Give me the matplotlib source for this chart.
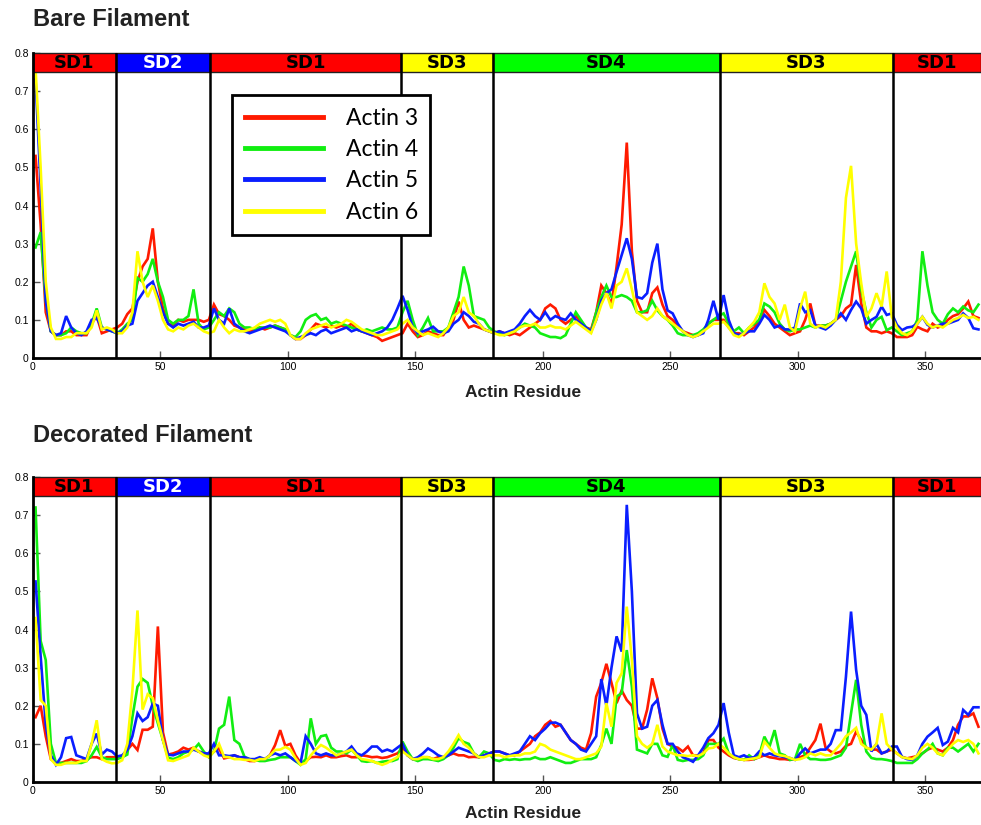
import numpy as np
import matplotlib
matplotlib.use("Agg")
import matplotlib.pyplot as plt
from matplotlib.patches import Rectangle

# Residue grid (every second residue of actin, 1..371)
residue = np.arange(1, 372, 2)

# Subdomain boundaries, labels and band colours
domain_edges = [0, 32.5, 69.5, 144.5, 180.5, 269.5, 337.5, 375]
domain_names = ["SD1", "SD2", "SD1", "SD3", "SD4", "SD3", "SD1"]
domain_colors = ["#ff0000", "#0000ff", "#ff0000", "#ffff00", "#00ff00", "#ffff00", "#ff0000"]
domain_text = ["black", "white", "black", "black", "black", "black", "black"]

series_names = ["Actin 3", "Actin 4", "Actin 5", "Actin 6"]
series_colors = ["#ff1a00", "#11ee11", "#0a1eff", "#ffff00"]

x_ticks = [0, 50, 100, 150, 200, 250, 300, 350]
y_ticks = [0, 0.1, 0.2, 0.3, 0.4, 0.5, 0.6, 0.7, 0.8]

# ---- Bare filament ----
bare_actin3 = [
    0.53, 0.35, 0.12, 0.07, 0.06, 0.06, 0.07, 0.07, 0.06, 0.06,
    0.06, 0.09, 0.11, 0.065, 0.07, 0.075, 0.08, 0.09, 0.115, 0.13,
    0.2, 0.24, 0.26, 0.34, 0.2, 0.13, 0.09, 0.085, 0.1, 0.095,
    0.1, 0.1, 0.1, 0.095, 0.1, 0.14, 0.115, 0.11, 0.1, 0.085,
    0.08, 0.075, 0.07, 0.075, 0.08, 0.075, 0.08, 0.085, 0.08, 0.075,
    0.06, 0.05, 0.05, 0.06, 0.075, 0.09, 0.085, 0.08, 0.085, 0.08,
    0.085, 0.08, 0.09, 0.075, 0.07, 0.065, 0.06, 0.055, 0.045, 0.05,
    0.055, 0.06, 0.065, 0.09, 0.07, 0.055, 0.06, 0.07, 0.065, 0.06,
    0.06, 0.08, 0.1, 0.148, 0.1, 0.08, 0.085, 0.08, 0.075, 0.07,
    0.065, 0.07, 0.065, 0.06, 0.065, 0.06, 0.07, 0.08, 0.09, 0.1,
    0.13, 0.14, 0.13, 0.1, 0.09, 0.1, 0.11, 0.095, 0.08, 0.075,
    0.12, 0.19, 0.17, 0.14, 0.24, 0.35, 0.565, 0.28, 0.15, 0.12,
    0.12, 0.17, 0.185, 0.14, 0.11, 0.1, 0.085, 0.07, 0.065, 0.06,
    0.06, 0.07, 0.09, 0.1, 0.1, 0.1, 0.08, 0.065, 0.065, 0.06,
    0.07, 0.08, 0.1, 0.126, 0.11, 0.09, 0.08, 0.07, 0.06, 0.065,
    0.07, 0.1, 0.143, 0.085, 0.085, 0.085, 0.09, 0.1, 0.11, 0.13,
    0.14, 0.244, 0.143, 0.08, 0.07, 0.07, 0.065, 0.07, 0.065, 0.055,
    0.055, 0.055, 0.06, 0.082, 0.075, 0.07, 0.09, 0.08, 0.085, 0.1,
    0.11, 0.115, 0.13, 0.148, 0.11, 0.105,
]
bare_actin4 = [
    0.29, 0.33, 0.15, 0.07, 0.06, 0.06, 0.065, 0.08, 0.07, 0.065,
    0.065, 0.09, 0.13, 0.08, 0.075, 0.07, 0.065, 0.075, 0.09, 0.1,
    0.21, 0.2, 0.22, 0.26, 0.2, 0.16, 0.1, 0.09, 0.1, 0.1,
    0.11, 0.18, 0.09, 0.075, 0.08, 0.1, 0.12, 0.11, 0.13, 0.12,
    0.09, 0.08, 0.08, 0.075, 0.08, 0.08, 0.08, 0.085, 0.08, 0.075,
    0.06, 0.055, 0.07, 0.1, 0.11, 0.115, 0.1, 0.105, 0.09, 0.095,
    0.09, 0.085, 0.08, 0.075, 0.07, 0.075, 0.07, 0.075, 0.08, 0.075,
    0.075, 0.08, 0.12, 0.15, 0.1, 0.06, 0.08, 0.105, 0.07, 0.07,
    0.07, 0.08, 0.12, 0.16, 0.24, 0.19, 0.11, 0.105, 0.1, 0.08,
    0.07, 0.065, 0.06, 0.065, 0.07, 0.08, 0.09, 0.085, 0.08, 0.065,
    0.06, 0.055, 0.055, 0.052, 0.06, 0.09, 0.12, 0.1, 0.08, 0.07,
    0.12, 0.16, 0.19, 0.16, 0.16, 0.165, 0.16, 0.15, 0.12, 0.12,
    0.125, 0.15, 0.125, 0.11, 0.1, 0.085, 0.065, 0.06, 0.06, 0.06,
    0.065, 0.075, 0.09, 0.1, 0.11, 0.117, 0.09, 0.07, 0.08, 0.065,
    0.08, 0.09, 0.1, 0.143, 0.135, 0.12, 0.09, 0.075, 0.07, 0.075,
    0.075, 0.08, 0.085, 0.08, 0.085, 0.085, 0.09, 0.1, 0.15, 0.2,
    0.24, 0.28, 0.18, 0.12, 0.08, 0.1, 0.108, 0.073, 0.08, 0.07,
    0.06, 0.065, 0.07, 0.1, 0.28, 0.19, 0.12, 0.1, 0.09, 0.115,
    0.13, 0.12, 0.135, 0.125, 0.12, 0.14,
]
bare_actin5 = [
    0.73, 0.45, 0.15, 0.07, 0.06, 0.065, 0.11, 0.08, 0.065, 0.06,
    0.07, 0.1, 0.105, 0.08, 0.075, 0.07, 0.065, 0.07, 0.085, 0.09,
    0.15, 0.17, 0.19, 0.2, 0.16, 0.12, 0.09, 0.08, 0.09, 0.085,
    0.09, 0.095, 0.08, 0.08, 0.085, 0.13, 0.1, 0.09, 0.13, 0.09,
    0.08, 0.07, 0.065, 0.07, 0.075, 0.08, 0.085, 0.08, 0.075, 0.07,
    0.06, 0.05, 0.055, 0.06, 0.065, 0.06, 0.07, 0.075, 0.065, 0.07,
    0.075, 0.08, 0.07, 0.075, 0.07, 0.065, 0.06, 0.065, 0.07, 0.08,
    0.1, 0.13, 0.163, 0.126, 0.08, 0.065, 0.07, 0.075, 0.082, 0.07,
    0.065, 0.07, 0.09, 0.1, 0.12, 0.11, 0.095, 0.09, 0.075, 0.07,
    0.065, 0.07, 0.065, 0.07, 0.075, 0.09, 0.11, 0.126, 0.11, 0.1,
    0.12, 0.1, 0.11, 0.104, 0.1, 0.117, 0.1, 0.09, 0.08, 0.07,
    0.1, 0.15, 0.17, 0.18, 0.226, 0.27, 0.314, 0.26, 0.16, 0.156,
    0.17, 0.25, 0.3, 0.18, 0.125, 0.117, 0.09, 0.07, 0.06, 0.055,
    0.06, 0.065, 0.1, 0.15, 0.1, 0.165, 0.1, 0.065, 0.06, 0.065,
    0.07, 0.07, 0.09, 0.113, 0.1, 0.08, 0.085, 0.075, 0.075, 0.08,
    0.143, 0.12, 0.126, 0.085, 0.08, 0.075, 0.085, 0.1, 0.117, 0.1,
    0.126, 0.148, 0.13, 0.09, 0.1, 0.108, 0.135, 0.113, 0.117, 0.087,
    0.073, 0.08, 0.082, 0.09, 0.108, 0.087, 0.08, 0.085, 0.09, 0.09,
    0.095, 0.1, 0.117, 0.105, 0.078, 0.075,
]
bare_actin6 = [
    0.76, 0.5, 0.2, 0.08, 0.05, 0.05, 0.055, 0.055, 0.065, 0.065,
    0.065, 0.08, 0.125, 0.075, 0.08, 0.075, 0.065, 0.065, 0.08, 0.12,
    0.28, 0.2, 0.16, 0.19, 0.15, 0.1, 0.075, 0.07, 0.08, 0.075,
    0.085, 0.09, 0.08, 0.07, 0.065, 0.07, 0.1, 0.08, 0.065, 0.075,
    0.07, 0.07, 0.075, 0.08, 0.09, 0.095, 0.1, 0.095, 0.1, 0.09,
    0.06, 0.05, 0.05, 0.065, 0.075, 0.08, 0.085, 0.09, 0.08, 0.085,
    0.09, 0.1, 0.095, 0.085, 0.075, 0.07, 0.065, 0.06, 0.06, 0.065,
    0.07, 0.075, 0.09, 0.1, 0.08, 0.07, 0.06, 0.065, 0.06, 0.055,
    0.065, 0.08, 0.11, 0.12, 0.16, 0.12, 0.11, 0.09, 0.075, 0.07,
    0.065, 0.06, 0.06, 0.065, 0.07, 0.08, 0.085, 0.085, 0.09, 0.08,
    0.08, 0.085, 0.08, 0.08, 0.075, 0.085, 0.095, 0.085, 0.075, 0.065,
    0.1, 0.14, 0.17, 0.13, 0.19, 0.2, 0.235, 0.18, 0.12, 0.11,
    0.1, 0.11, 0.13, 0.11, 0.1, 0.09, 0.08, 0.07, 0.06, 0.055,
    0.06, 0.07, 0.08, 0.09, 0.09, 0.095, 0.08, 0.06, 0.055, 0.065,
    0.08, 0.095, 0.12, 0.196, 0.16, 0.143, 0.1, 0.14, 0.08, 0.07,
    0.13, 0.174, 0.09, 0.08, 0.085, 0.08, 0.09, 0.1, 0.2, 0.42,
    0.504, 0.3, 0.196, 0.108, 0.13, 0.17, 0.135, 0.227, 0.108, 0.08,
    0.065, 0.06, 0.07, 0.09, 0.108, 0.09, 0.08, 0.085, 0.08, 0.09,
    0.1, 0.105, 0.113, 0.105, 0.108, 0.1,
]

# ---- Decorated filament ----
dec_actin3 = [
    0.17, 0.2, 0.12, 0.06, 0.05, 0.05, 0.055, 0.06, 0.055, 0.055,
    0.06, 0.065, 0.065, 0.06, 0.065, 0.065, 0.065, 0.065, 0.084, 0.1,
    0.084, 0.137, 0.137, 0.145, 0.408, 0.13, 0.072, 0.075, 0.08, 0.09,
    0.085, 0.09, 0.08, 0.075, 0.07, 0.08, 0.088, 0.062, 0.065, 0.07,
    0.065, 0.06, 0.055, 0.055, 0.06, 0.06, 0.07, 0.097, 0.136, 0.095,
    0.1, 0.07, 0.05, 0.055, 0.065, 0.066, 0.065, 0.07, 0.065, 0.065,
    0.068, 0.07, 0.065, 0.065, 0.07, 0.068, 0.065, 0.066, 0.063, 0.065,
    0.07, 0.075, 0.088, 0.07, 0.06, 0.06, 0.065, 0.065, 0.06, 0.065,
    0.065, 0.07, 0.075, 0.07, 0.07, 0.065, 0.066, 0.065, 0.07, 0.075,
    0.08, 0.08, 0.075, 0.07, 0.07, 0.08, 0.09, 0.1, 0.12, 0.13,
    0.15, 0.16, 0.145, 0.15, 0.13, 0.11, 0.1, 0.09, 0.085, 0.128,
    0.224, 0.26, 0.31, 0.26, 0.207, 0.24, 0.215, 0.2, 0.14, 0.14,
    0.19, 0.272, 0.22, 0.14, 0.1, 0.093, 0.09, 0.08, 0.093, 0.07,
    0.07, 0.075, 0.11, 0.11, 0.09, 0.08, 0.07, 0.063, 0.06, 0.058,
    0.058, 0.06, 0.065, 0.07, 0.065, 0.063, 0.06, 0.06, 0.058, 0.06,
    0.065, 0.07, 0.09, 0.11, 0.153, 0.09, 0.08, 0.075, 0.08, 0.095,
    0.1, 0.132, 0.11, 0.09, 0.085, 0.085, 0.075, 0.08, 0.085, 0.075,
    0.066, 0.062, 0.065, 0.068, 0.075, 0.085, 0.09, 0.085, 0.08, 0.09,
    0.11, 0.15, 0.172, 0.172, 0.18, 0.145,
]
dec_actin4 = [
    0.72, 0.37, 0.32, 0.1, 0.05, 0.05, 0.05, 0.05, 0.05, 0.05,
    0.055, 0.07, 0.092, 0.065, 0.06, 0.06, 0.06, 0.065, 0.072, 0.17,
    0.25, 0.27, 0.26, 0.2, 0.154, 0.11, 0.064, 0.06, 0.065, 0.075,
    0.08, 0.085, 0.1, 0.08, 0.065, 0.08, 0.14, 0.15, 0.224, 0.11,
    0.1, 0.066, 0.06, 0.058, 0.055, 0.055, 0.058, 0.06, 0.065, 0.065,
    0.065, 0.055, 0.045, 0.06, 0.167, 0.1, 0.12, 0.123, 0.09, 0.08,
    0.08, 0.075, 0.085, 0.07, 0.055, 0.053, 0.055, 0.05, 0.053, 0.055,
    0.055, 0.06, 0.106, 0.08, 0.06, 0.055, 0.06, 0.06, 0.058, 0.055,
    0.06, 0.07, 0.09, 0.115, 0.105, 0.1, 0.075, 0.065, 0.08, 0.075,
    0.058, 0.055, 0.06, 0.058, 0.06, 0.058, 0.06, 0.06, 0.065, 0.06,
    0.06, 0.065, 0.06, 0.055, 0.05, 0.05, 0.055, 0.06, 0.06, 0.06,
    0.065, 0.097, 0.14, 0.1, 0.224, 0.233, 0.346, 0.25, 0.085, 0.08,
    0.075, 0.1, 0.1, 0.07, 0.066, 0.097, 0.058, 0.055, 0.058, 0.058,
    0.06, 0.07, 0.1, 0.1, 0.1, 0.114, 0.075, 0.065, 0.06, 0.058,
    0.07, 0.06, 0.07, 0.119, 0.093, 0.136, 0.075, 0.07, 0.058, 0.06,
    0.1, 0.07, 0.06, 0.06, 0.058, 0.058, 0.06, 0.065, 0.07, 0.09,
    0.18, 0.268, 0.15, 0.08, 0.063, 0.06, 0.06, 0.058, 0.055, 0.05,
    0.05, 0.05, 0.05, 0.06, 0.075, 0.085, 0.1, 0.075, 0.07, 0.09,
    0.09, 0.08, 0.09, 0.1, 0.08, 0.1,
]
dec_actin5 = [
    0.526, 0.33, 0.15, 0.07, 0.045, 0.065, 0.115, 0.118, 0.07, 0.065,
    0.06, 0.1, 0.127, 0.072, 0.085, 0.08, 0.067, 0.07, 0.084, 0.12,
    0.18, 0.16, 0.17, 0.206, 0.2, 0.11, 0.072, 0.07, 0.075, 0.08,
    0.08, 0.085, 0.08, 0.075, 0.075, 0.1, 0.07, 0.07, 0.068, 0.07,
    0.065, 0.065, 0.06, 0.06, 0.065, 0.06, 0.07, 0.075, 0.07, 0.075,
    0.065, 0.055, 0.05, 0.12, 0.1, 0.075, 0.07, 0.075, 0.07, 0.07,
    0.075, 0.08, 0.093, 0.075, 0.07, 0.08, 0.093, 0.093, 0.08, 0.085,
    0.08, 0.09, 0.1, 0.07, 0.06, 0.065, 0.075, 0.088, 0.08, 0.07,
    0.065, 0.07, 0.08, 0.09, 0.085, 0.08, 0.075, 0.065, 0.07, 0.075,
    0.08, 0.08, 0.075, 0.07, 0.075, 0.08, 0.1, 0.12, 0.11, 0.128,
    0.14, 0.155, 0.156, 0.15, 0.13, 0.11, 0.1, 0.085, 0.08, 0.1,
    0.12, 0.27, 0.2, 0.3, 0.382, 0.342, 0.727, 0.5, 0.18, 0.14,
    0.145, 0.2, 0.215, 0.15, 0.1, 0.1, 0.08, 0.065, 0.06, 0.053,
    0.07, 0.09, 0.115, 0.128, 0.15, 0.207, 0.13, 0.07, 0.065, 0.07,
    0.063, 0.065, 0.08, 0.07, 0.075, 0.07, 0.068, 0.065, 0.063, 0.058,
    0.075, 0.088, 0.075, 0.08, 0.085, 0.085, 0.1, 0.136, 0.136, 0.276,
    0.447, 0.294, 0.2, 0.176, 0.08, 0.1, 0.075, 0.08, 0.093, 0.093,
    0.066, 0.06, 0.058, 0.07, 0.1, 0.119, 0.13, 0.142, 0.097, 0.106,
    0.142, 0.13, 0.189, 0.176, 0.196, 0.196,
]
dec_actin6 = [
    0.43, 0.215, 0.2, 0.06, 0.045, 0.045, 0.05, 0.05, 0.05, 0.055,
    0.055, 0.1, 0.162, 0.06, 0.053, 0.049, 0.05, 0.057, 0.1, 0.24,
    0.45, 0.19, 0.23, 0.22, 0.162, 0.11, 0.057, 0.055, 0.06, 0.065,
    0.07, 0.09, 0.08, 0.07, 0.065, 0.08, 0.1, 0.066, 0.065, 0.06,
    0.06, 0.058, 0.058, 0.055, 0.06, 0.06, 0.07, 0.084, 0.085, 0.092,
    0.085, 0.062, 0.045, 0.05, 0.07, 0.085, 0.097, 0.09, 0.08, 0.07,
    0.075, 0.08, 0.085, 0.07, 0.06, 0.058, 0.055, 0.05, 0.045, 0.05,
    0.058, 0.065, 0.08, 0.07, 0.06, 0.06, 0.065, 0.065, 0.06, 0.06,
    0.065, 0.08, 0.1, 0.123, 0.1, 0.09, 0.075, 0.065, 0.065, 0.07,
    0.07, 0.07, 0.065, 0.068, 0.07, 0.07, 0.075, 0.075, 0.08, 0.1,
    0.095, 0.085, 0.08, 0.075, 0.07, 0.065, 0.06, 0.06, 0.065, 0.07,
    0.075, 0.093, 0.207, 0.145, 0.26, 0.285, 0.46, 0.32, 0.12, 0.1,
    0.09, 0.1, 0.15, 0.093, 0.08, 0.075, 0.07, 0.07, 0.068, 0.07,
    0.068, 0.075, 0.088, 0.09, 0.1, 0.09, 0.075, 0.065, 0.06, 0.058,
    0.06, 0.062, 0.065, 0.106, 0.09, 0.075, 0.07, 0.068, 0.063, 0.058,
    0.06, 0.065, 0.075, 0.07, 0.075, 0.07, 0.07, 0.085, 0.1, 0.12,
    0.13, 0.142, 0.1, 0.09, 0.085, 0.1, 0.18, 0.1, 0.085, 0.075,
    0.065, 0.062, 0.06, 0.07, 0.09, 0.1, 0.09, 0.075, 0.07, 0.085,
    0.1, 0.11, 0.105, 0.11, 0.1, 0.075,
]

panels = [
    ("Bare Filament", [bare_actin3, bare_actin4, bare_actin5, bare_actin6]),
    ("Decorated Filament", [dec_actin3, dec_actin4, dec_actin5, dec_actin6]),
]

W, H = 981, 825
fig = plt.figure(figsize=(W / 100, H / 100), dpi=100)

tick_font = {"family": "Liberation Sans", "size": 7.5}
x_max = 372
band_lo, band_hi = 0.75, 0.8


def px_axes(left, top, right, bottom):
    return [left / W, 1 - bottom / H, (right - left) / W, (bottom - top) / H]


axes_boxes = [px_axes(33, 53, 981, 358), px_axes(33, 477, 981, 782)]
title_y = [20, 436]
xlabel_y = [393, 813]

for i, ((title, group), box) in enumerate(zip(panels, axes_boxes)):
    ax = fig.add_axes(box)
    for vals, col, name in zip(group, series_colors, series_names):
        ax.plot(residue, vals, color=col, lw=1.9, label=name, zorder=3,
                solid_joinstyle="miter")

    # subdomain band along the top
    for k, nm in enumerate(domain_names):
        x0 = domain_edges[k]
        x1 = min(domain_edges[k + 1], x_max)
        ax.add_patch(Rectangle((x0, band_lo), x1 - x0, band_hi - band_lo,
                               facecolor=domain_colors[k], edgecolor="#222222",
                               lw=1.0, zorder=4, clip_on=False))
        ax.text((x0 + x1) / 2, (band_lo + band_hi) / 2 - 0.001, nm,
                ha="center", va="center", color=domain_text[k],
                fontsize=13, fontweight="bold", family="DejaVu Sans", zorder=5)
    for e in domain_edges[1:-1]:
        ax.axvline(e, color="black", lw=1.8, zorder=4)

    ax.set_xlim(0, x_max)
    ax.set_ylim(0, 0.8)
    ax.set_xticks(x_ticks)
    ax.set_xticklabels([str(t) for t in x_ticks], **tick_font)
    ax.set_yticks(y_ticks)
    ax.set_yticklabels(["0" if t == 0 else f"{t:.1f}" for t in y_ticks], **tick_font)
    ax.tick_params(direction="in", length=5, width=1, color="#555555", pad=3)
    for side in ("top", "right"):
        ax.spines[side].set_visible(False)
    for side in ("left", "bottom"):
        ax.spines[side].set_linewidth(2.0)
        ax.spines[side].set_zorder(6)

    fig.text(33 / W, 1 - title_y[i] / H, title, ha="left", va="center",
             fontsize=17, fontweight="bold", family="Liberation Sans", color="#222222")
    fig.text(523 / W, 1 - xlabel_y[i] / H, "Actin Residue", ha="center", va="center",
             fontsize=12.5, fontweight="bold", family="Liberation Sans", color="#222222")

    if i == 0:
        leg = ax.legend(loc="upper left", bbox_to_anchor=(0.21, 0.862),
                        borderaxespad=0, fancybox=False, framealpha=1,
                        edgecolor="black", handlelength=3.4, handletextpad=1.0,
                        labelspacing=0.45, borderpad=0.55,
                        prop={"family": "Lato", "size": 16.5})
        leg.get_frame().set_linewidth(2.0)
        for line in leg.get_lines():
            line.set_linewidth(3.5)
        leg.set_zorder(7)

fig.savefig("out.png", dpi=100)
